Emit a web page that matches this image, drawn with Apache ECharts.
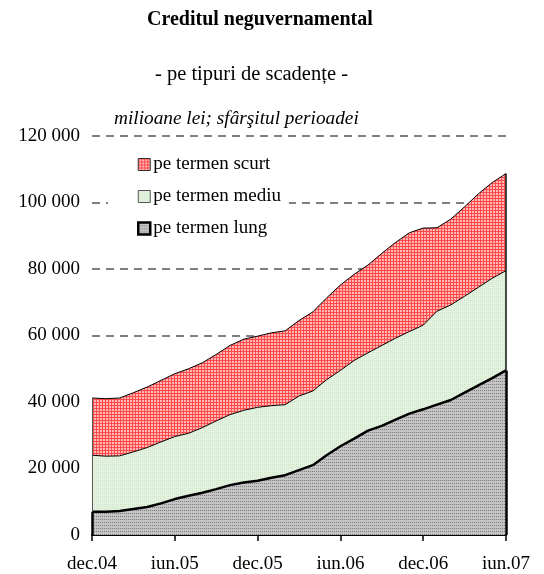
<!DOCTYPE html>
<html>
<head>
<meta charset="utf-8">
<script src="https://cdn.jsdelivr.net/npm/echarts@6/dist/echarts.min.js"></script>
<style>
  html, body { margin: 0; padding: 0; background: #fff; }
  #chart { width: 544px; height: 574px; }
</style>
</head>
<body>
<div id="chart"></div>
<script>
  // milioane lei, sfarsitul perioadei
  var luni = ['dec.04', 'ian.05', 'feb.05', 'mar.05', 'apr.05', 'mai.05', 'iun.05', 'iul.05', 'aug.05', 'sep.05', 'oct.05', 'noi.05',
    'dec.05', 'ian.06', 'feb.06', 'mar.06', 'apr.06', 'mai.06', 'iun.06', 'iul.06', 'aug.06', 'sep.06', 'oct.06', 'noi.06',
    'dec.06', 'ian.07', 'feb.07', 'mar.07', 'apr.07', 'mai.07', 'iun.07']
  var termenLung = [7000, 7000, 7200, 7800, 8400, 9500, 10800, 11800, 12700, 13800, 15000, 15800, 16300, 17200, 18000, 19500,
    21000, 24000, 26700, 29000, 31400, 32800, 34700, 36500, 37800, 39200, 40600, 42800, 45000, 47200, 49500]
  var termenMediu = [17000, 16700, 16600, 17200, 17900, 18500, 18800, 18800, 19600, 20500, 21200, 21700, 22100, 21700, 21200, 22300,
    22300, 22700, 22800, 23500, 23400, 24200, 24500, 24700, 25300, 28100, 28600, 29000, 29500, 30000, 30000]
  var termenScurt = [17200, 17300, 17400, 17800, 18200, 18500, 18900, 19400, 19500, 20000, 20800, 21400, 21400, 21900, 22200, 22700,
    23800, 24600, 25700, 25900, 26400, 27700, 28800, 29700, 29200, 25100, 25800, 26900, 28100, 28800, 29200]
  var legendData = ['pe termen scurt', 'pe termen mediu', 'pe termen lung']

  var font = '"Liberation Serif", "Times New Roman", serif'

  // hasuri ca in Excel
  function pattern(w, h, bg, fg, pts) {
    var c = document.createElement('canvas')
    c.width = w
    c.height = h
    var ctx = c.getContext('2d')
    ctx.fillStyle = bg
    ctx.fillRect(0, 0, w, h)
    ctx.fillStyle = fg
    pts.forEach(function (p) { ctx.fillRect(p[0], p[1], 1, 1) })
    return { image: c, repeat: 'repeat' }
  }
  var redFill = pattern(3, 3, '#ffb8b8', '#ff4a4a', [[0, 0], [1, 0], [2, 0], [0, 1], [0, 2]])
  var greenFill = pattern(2, 2, '#e4f3e0', '#cfe6cb', [[0, 0]])
  var grayFill = pattern(2, 3, '#c4c4c4', '#7c7c7c', [[0, 0]])

  var first = luni[0], last = luni[luni.length - 1], n = luni.length - 1
  var totalFirst = termenLung[0] + termenMediu[0] + termenScurt[0]
  var totalLast = termenLung[n] + termenMediu[n] + termenScurt[n]

  var chart = echarts.init(document.getElementById('chart'))
  chart.setOption({
    animation: false,
    textStyle: { fontFamily: font },
    graphic: [
      { type: 'text', left: 147, top: 10, style: { text: 'Creditul neguvernamental', font: 'bold 20px ' + font, fill: '#000' } },
      { type: 'text', left: 155, top: 64, style: { text: '- pe tipuri de scadențe -', font: '20.5px ' + font, fill: '#000' } },
      { type: 'text', left: 114, top: 109, style: { text: 'milioane lei; sfârşitul perioadei', font: 'italic 19.3px ' + font, fill: '#000' } }
    ],
    legend: {
      orient: 'vertical',
      left: 108,
      top: 149,
      icon: 'rect',
      backgroundColor: '#fff',
      padding: [6, 8, 6, 29],
      itemWidth: 12,
      itemHeight: 12,
      itemGap: 13,
      textStyle: { fontSize: 19, color: '#000', fontFamily: font, padding: [0, 0, 0, -2] },
      data: [
        { name: legendData[0], itemStyle: { color: redFill, borderColor: '#333', borderWidth: 1 } },
        { name: legendData[1], itemStyle: { color: greenFill, borderColor: '#555', borderWidth: 1 } },
        { name: legendData[2], itemStyle: { color: grayFill, borderColor: '#000', borderWidth: 2.5 } }
      ]
    },
    grid: { left: 92, right: 38, top: 136, bottom: 34, containLabel: false },
    xAxis: {
      type: 'category',
      boundaryGap: false,
      data: luni,
      axisLine: { lineStyle: { color: '#000', width: 2 } },
      axisTick: { interval: 5, length: 6, lineStyle: { color: '#000', width: 1.5 } },
      axisLabel: { interval: 5, color: '#000', fontSize: 19, fontFamily: font, margin: 20 }
    },
    yAxis: {
      type: 'value',
      min: 0,
      max: 120000,
      interval: 20000,
      axisLine: { show: false },
      axisTick: { show: false },
      axisLabel: {
        color: '#000', fontSize: 19, fontFamily: font, margin: 12,
        formatter: function (v) { return String(v).replace(/\B(?=(\d{3})+(?!\d))/g, ' ') }
      },
      splitLine: { lineStyle: { color: '#555', width: 1.5, type: [8, 6] } }
    },
    series: [
      {
        name: legendData[2],
        type: 'line',
        stack: 'total',
        z: 4,
        symbol: 'none',
        data: termenLung,
        lineStyle: { color: '#000', width: 2.5 },
        areaStyle: { color: grayFill, opacity: 1 },
        itemStyle: { color: grayFill },
        markLine: {
          silent: true, symbol: 'none', label: { show: false },
          lineStyle: { color: '#000', width: 2.5, type: 'solid' },
          data: [
            [{ coord: [first, 0] }, { coord: [first, termenLung[0]] }],
            [{ coord: [last, 0] }, { coord: [last, termenLung[n]] }]
          ]
        }
      },
      {
        name: legendData[1],
        type: 'line',
        stack: 'total',
        z: 3,
        symbol: 'none',
        data: termenMediu,
        lineStyle: { color: '#000', width: 1 },
        areaStyle: { color: greenFill, opacity: 1 },
        itemStyle: { color: greenFill }
      },
      {
        name: legendData[0],
        type: 'line',
        stack: 'total',
        z: 2,
        symbol: 'none',
        data: termenScurt,
        lineStyle: { color: '#000', width: 1 },
        areaStyle: { color: redFill, opacity: 1 },
        itemStyle: { color: redFill },
        markLine: {
          silent: true, symbol: 'none', label: { show: false },
          data: [
            [{ coord: [first, termenLung[0]], lineStyle: { color: '#555', width: 1, type: 'solid' } }, { coord: [first, totalFirst] }],
            [{ coord: [last, termenLung[n]], lineStyle: { color: '#111', width: 1.5, type: 'solid' } }, { coord: [last, totalLast] }]
          ]
        }
      }
    ]
  })
</script>
</body>
</html>
